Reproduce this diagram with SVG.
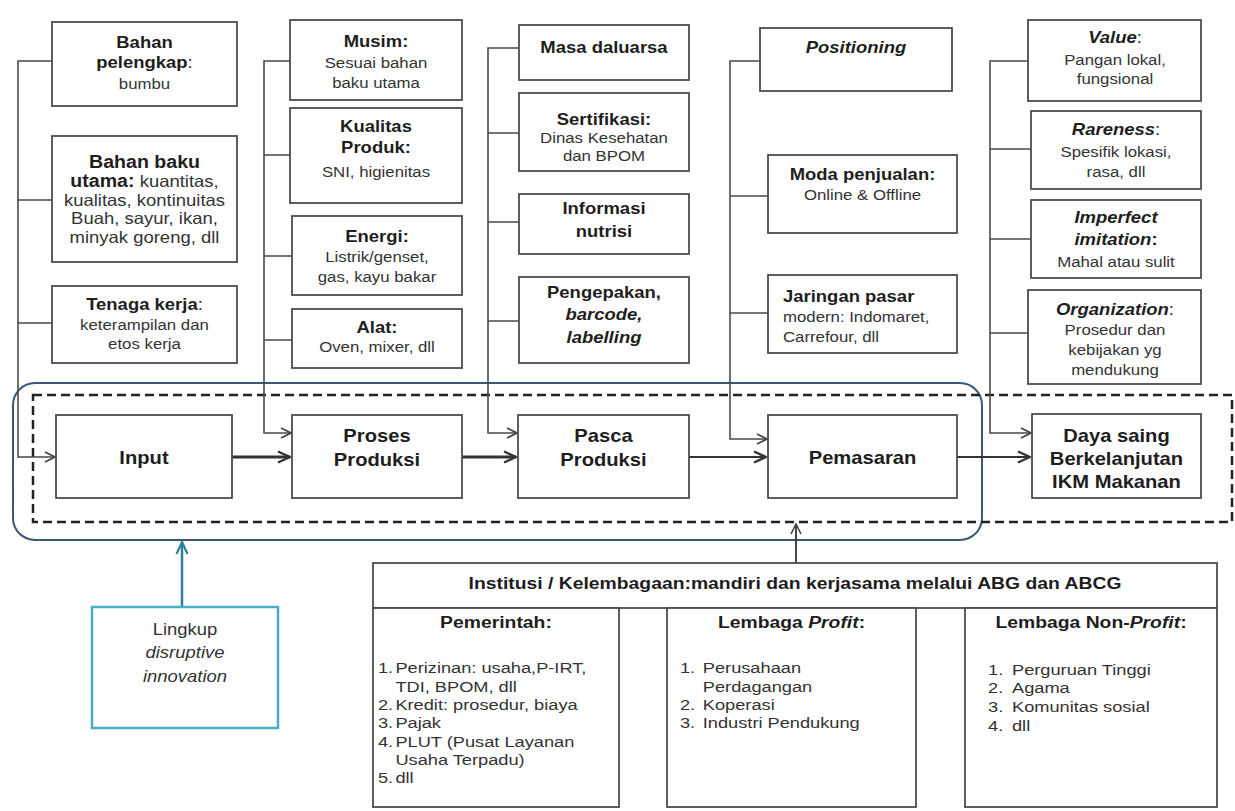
<svg xmlns="http://www.w3.org/2000/svg" width="1235" height="811" viewBox="0 0 1235 811">
  <style>
    .box { fill: #fff; stroke: #4d4d4d; stroke-width: 1.8; }
    .t { font-family: "Liberation Sans", Arial, sans-serif; fill: #1e1e1e; text-anchor: middle; }
    .l { text-anchor: start; }
    .h { font-size: 16.5px; font-weight: bold; }
    .s { font-size: 15px; fill: #333; }
    .m { font-size: 18px; font-weight: bold; }
    .li { font-size: 15.2px; fill: #333; text-anchor: start; }
    .it { font-style: italic; }
    .n { font-weight: normal; }
    .link { fill: none; stroke: #4a4a4a; stroke-width: 1.6; }
    .flow { fill: none; stroke: #333; stroke-width: 3; }
    .flow2 { fill: none; stroke: #333; stroke-width: 2.2; }
  </style>
  <defs>
    <marker id="chev" viewBox="0 0 12 12" refX="11" refY="6" markerWidth="12" markerHeight="12" markerUnits="userSpaceOnUse" orient="auto">
      <path d="M1,1 L11,6 L1,11" fill="none" stroke="#444" stroke-width="1.6"/>
    </marker>
    <marker id="chevBold" viewBox="0 0 14 14" refX="13" refY="7" markerWidth="14" markerHeight="14" markerUnits="userSpaceOnUse" orient="auto">
      <path d="M1,1.5 L13,7 L1,12.5" fill="none" stroke="#333" stroke-width="2.4"/>
    </marker>
    <marker id="chevTeal" viewBox="0 0 14 14" refX="13" refY="7" markerWidth="14" markerHeight="14" markerUnits="userSpaceOnUse" orient="auto">
      <path d="M1,1.5 L13,7 L1,12.5" fill="none" stroke="#2f7f98" stroke-width="2.2"/>
    </marker>
  </defs>

  <rect width="1235" height="811" fill="#fff"/>

  <!-- frames around the value chain -->
  <g id="frames">
    <rect x="13" y="383" width="969" height="157" rx="22" fill="none" stroke="#3a5775" stroke-width="2"/>
    <rect x="33" y="395" width="1199" height="127" fill="none" stroke="#222" stroke-width="2.5" stroke-dasharray="9 5"/>
  </g>

  <!-- connectors -->
  <g id="connectors">
    <!-- input factors -->
    <path class="link" d="M52 61 H18 V457 H55" marker-end="url(#chev)"/>
    <path class="link" d="M18 200 H52 M18 323 H52"/>
    <!-- production factors -->
    <path class="link" d="M290 61 H264 V433 H291" marker-end="url(#chev)"/>
    <path class="link" d="M264 155 H290 M264 256 H292 M264 340 H292"/>
    <!-- post-production factors -->
    <path class="link" d="M519 48 H488 V433 H517" marker-end="url(#chev)"/>
    <path class="link" d="M488 133 H519 M488 222 H519 M488 321 H519"/>
    <!-- marketing factors -->
    <path class="link" d="M760 61 H730 V439 H767" marker-end="url(#chev)"/>
    <path class="link" d="M730 196 H768 M730 313 H768"/>
    <!-- VRIO factors -->
    <path class="link" d="M1028 61 H990 V433 H1031" marker-end="url(#chev)"/>
    <path class="link" d="M990 149 H1031 M990 239 H1031 M990 333 H1028"/>
    <!-- main chain -->
    <path class="flow" d="M232 457 H290" marker-end="url(#chevBold)"/>
    <path class="flow" d="M462 457 H516" marker-end="url(#chevBold)"/>
    <path class="flow2" d="M689 457 H766" marker-end="url(#chevBold)"/>
    <path class="flow2" d="M957 457 H1030" marker-end="url(#chevBold)"/>
    <!-- scope and institutions -->
    <path d="M182 607 V542" fill="none" stroke="#2f7f98" stroke-width="2.5" marker-end="url(#chevTeal)"/>
    <path d="M796 563 V524" fill="none" stroke="#333" stroke-width="1.8" marker-end="url(#chev)"/>
  </g>

  <!-- column 1: input -->
  <g id="bahan-pelengkap">
    <rect class="box" x="52" y="22" width="185" height="84"/>
    <g transform="translate(144.5 0) scale(1.12 1) translate(-144.5 0)">
      <text class="t h" x="144.5" y="48">Bahan</text>
      <text class="t h" x="144.5" y="68">pelengkap<tspan class="n">:</tspan></text>
      <text class="t s" x="144.5" y="89">bumbu</text>
    </g>
  </g>
  <g id="bahan-baku">
    <rect class="box" x="52" y="136" width="185" height="126"/>
    <g transform="translate(144.5 0) scale(1.12 1) translate(-144.5 0)">
      <text class="t h" x="144.5" y="168" style="font-size:17.5px">Bahan baku</text>
      <text class="t h" x="144.5" y="187" style="font-size:17.5px">utama:<tspan class="n" style="font-size:16.5px;fill:#333"> kuantitas,</tspan></text>
      <text class="t s" x="144.5" y="206" style="font-size:16.5px">kualitas, kontinuitas</text>
      <text class="t s" x="144.5" y="224" style="font-size:16.5px">Buah, sayur, ikan,</text>
      <text class="t s" x="144.5" y="243" style="font-size:16.5px">minyak goreng, dll</text>
    </g>
  </g>
  <g id="tenaga-kerja">
    <rect class="box" x="52" y="286" width="185" height="77"/>
    <g transform="translate(144.5 0) scale(1.12 1) translate(-144.5 0)">
      <text class="t h" x="144.5" y="310">Tenaga kerja<tspan class="n">:</tspan></text>
      <text class="t s" x="144.5" y="330">keterampilan dan</text>
      <text class="t s" x="144.5" y="349">etos kerja</text>
    </g>
  </g>

  <!-- column 2: production -->
  <g id="musim">
    <rect class="box" x="290" y="20" width="172" height="80"/>
    <g transform="translate(376 0) scale(1.12 1) translate(-376 0)">
      <text class="t h" x="376" y="47">Musim:</text>
      <text class="t s" x="376" y="68">Sesuai bahan</text>
      <text class="t s" x="376" y="88">baku utama</text>
    </g>
  </g>
  <g id="kualitas">
    <rect class="box" x="290" y="108" width="172" height="95"/>
    <g transform="translate(376 0) scale(1.12 1) translate(-376 0)">
      <text class="t h" x="376" y="132">Kualitas</text>
      <text class="t h" x="376" y="153">Produk:</text>
      <text class="t s" x="376" y="177">SNI, higienitas</text>
    </g>
  </g>
  <g id="energi">
    <rect class="box" x="292" y="216" width="170" height="79"/>
    <g transform="translate(377 0) scale(1.12 1) translate(-377 0)">
      <text class="t h" x="377" y="242">Energi:</text>
      <text class="t s" x="377" y="262">Listrik/genset,</text>
      <text class="t s" x="377" y="282">gas, kayu bakar</text>
    </g>
  </g>
  <g id="alat">
    <rect class="box" x="292" y="309" width="170" height="59"/>
    <g transform="translate(377 0) scale(1.12 1) translate(-377 0)">
      <text class="t h" x="377" y="333">Alat:</text>
      <text class="t s" x="377" y="352">Oven, mixer, dll</text>
    </g>
  </g>

  <!-- column 3: post-production -->
  <g id="masa-daluarsa">
    <rect class="box" x="519" y="25" width="170" height="55"/>
    <g transform="translate(604 0) scale(1.12 1) translate(-604 0)">
      <text class="t h" x="604" y="53">Masa daluarsa</text>
    </g>
  </g>
  <g id="sertifikasi">
    <rect class="box" x="519" y="93" width="170" height="78"/>
    <g transform="translate(604 0) scale(1.12 1) translate(-604 0)">
      <text class="t h" x="604" y="125">Sertifikasi:</text>
      <text class="t s" x="604" y="143">Dinas Kesehatan</text>
      <text class="t s" x="604" y="161">dan BPOM</text>
    </g>
  </g>
  <g id="informasi-nutrisi">
    <rect class="box" x="519" y="194" width="170" height="60"/>
    <g transform="translate(604 0) scale(1.12 1) translate(-604 0)">
      <text class="t h" x="604" y="214">Informasi</text>
      <text class="t h" x="604" y="237">nutrisi</text>
    </g>
  </g>
  <g id="pengepakan">
    <rect class="box" x="519" y="277" width="170" height="86"/>
    <g transform="translate(604 0) scale(1.12 1) translate(-604 0)">
      <text class="t h" x="604" y="298">Pengepakan,</text>
      <text class="t h it" x="604" y="320">barcode,</text>
      <text class="t h it" x="604" y="343">labelling</text>
    </g>
  </g>

  <!-- column 4: marketing -->
  <g id="positioning">
    <rect class="box" x="760" y="28" width="192" height="63"/>
    <g transform="translate(856 0) scale(1.12 1) translate(-856 0)">
      <text class="t h it" x="856" y="53">Positioning</text>
    </g>
  </g>
  <g id="moda-penjualan">
    <rect class="box" x="768" y="155" width="189" height="78"/>
    <g transform="translate(862.5 0) scale(1.12 1) translate(-862.5 0)">
      <text class="t h" x="862.5" y="180">Moda penjualan:</text>
      <text class="t s" x="862.5" y="200">Online &amp; Offline</text>
    </g>
  </g>
  <g id="jaringan-pasar">
    <rect class="box" x="768" y="275" width="189" height="78"/>
    <g transform="translate(783 0) scale(1.12 1) translate(-783 0)">
      <text class="t l h" x="783" y="302">Jaringan pasar</text>
      <text class="t l s" x="783" y="322">modern: Indomaret,</text>
      <text class="t l s" x="783" y="342">Carrefour, dll</text>
    </g>
  </g>

  <!-- column 5: sustainable advantage (VRIO) -->
  <g id="value">
    <rect class="box" x="1028" y="20" width="173" height="81"/>
    <g transform="translate(1115 0) scale(1.12 1) translate(-1115 0)">
      <text class="t h" x="1115" y="43"><tspan class="it">Value</tspan><tspan class="n">:</tspan></text>
      <text class="t s" x="1115" y="65">Pangan lokal,</text>
      <text class="t s" x="1115" y="84">fungsional</text>
    </g>
  </g>
  <g id="rareness">
    <rect class="box" x="1031" y="111" width="170" height="78"/>
    <g transform="translate(1116 0) scale(1.12 1) translate(-1116 0)">
      <text class="t h" x="1116" y="135"><tspan class="it">Rareness</tspan><tspan class="n">:</tspan></text>
      <text class="t s" x="1116" y="157">Spesifik lokasi,</text>
      <text class="t s" x="1116" y="177">rasa, dll</text>
    </g>
  </g>
  <g id="imperfect-imitation">
    <rect class="box" x="1031" y="200" width="170" height="78"/>
    <g transform="translate(1116 0) scale(1.12 1) translate(-1116 0)">
      <text class="t h it" x="1116" y="223">Imperfect</text>
      <text class="t h" x="1116" y="245"><tspan class="it">imitation</tspan>:</text>
      <text class="t s" x="1116" y="267">Mahal atau sulit</text>
    </g>
  </g>
  <g id="organization">
    <rect class="box" x="1028" y="290" width="173" height="94"/>
    <g transform="translate(1115 0) scale(1.12 1) translate(-1115 0)">
      <text class="t h" x="1115" y="315"><tspan class="it">Organization</tspan><tspan class="n">:</tspan></text>
      <text class="t s" x="1115" y="335">Prosedur dan</text>
      <text class="t s" x="1115" y="355">kebijakan yg</text>
      <text class="t s" x="1115" y="375">mendukung</text>
    </g>
  </g>

  <!-- value chain -->
  <g id="input">
    <rect class="box" x="56" y="415" width="176" height="83"/>
    <g transform="translate(144 0) scale(1.12 1) translate(-144 0)">
      <text class="t m" x="144" y="464">Input</text>
    </g>
  </g>
  <g id="proses-produksi">
    <rect class="box" x="292" y="415" width="170" height="83"/>
    <g transform="translate(377 0) scale(1.12 1) translate(-377 0)">
      <text class="t m" x="377" y="442">Proses</text>
      <text class="t m" x="377" y="466">Produksi</text>
    </g>
  </g>
  <g id="pasca-produksi">
    <rect class="box" x="518" y="415" width="171" height="83"/>
    <g transform="translate(603.5 0) scale(1.12 1) translate(-603.5 0)">
      <text class="t m" x="603.5" y="442">Pasca</text>
      <text class="t m" x="603.5" y="466">Produksi</text>
    </g>
  </g>
  <g id="pemasaran">
    <rect class="box" x="768" y="415" width="189" height="83"/>
    <g transform="translate(862.5 0) scale(1.12 1) translate(-862.5 0)">
      <text class="t m" x="862.5" y="464">Pemasaran</text>
    </g>
  </g>
  <g id="daya-saing">
    <rect class="box" x="1032" y="414" width="169" height="84"/>
    <g transform="translate(1116.5 0) scale(1.12 1) translate(-1116.5 0)">
      <text class="t m" x="1116.5" y="442">Daya saing</text>
      <text class="t m" x="1116.5" y="465">Berkelanjutan</text>
      <text class="t m" x="1116.5" y="488">IKM Makanan</text>
    </g>
  </g>

  <!-- scope of disruptive innovation -->
  <g id="lingkup">
    <rect x="92" y="607" width="186" height="121" fill="#fff" stroke="#4bacc6" stroke-width="2.5"/>
    <g transform="translate(185 0) scale(1.12 1) translate(-185 0)">
      <text class="t" x="185" y="635" style="font-size:16.5px;fill:#333">Lingkup</text>
      <text class="t it" x="185" y="658" style="font-size:16.5px;fill:#333">disruptive</text>
      <text class="t it" x="185" y="682" style="font-size:16.5px;fill:#333">innovation</text>
    </g>
  </g>

  <!-- institutions -->
  <g id="institusi">
    <rect class="box" x="373" y="563" width="844" height="45"/>
    <g transform="translate(795 0) scale(1.18 1) translate(-795 0)">
      <text class="t" x="795" y="589" style="font-size:16.4px;font-weight:bold">Institusi / Kelembagaan:mandiri dan kerjasama melalui ABG dan ABCG</text>
    </g>
  </g>
  <g id="pemerintah">
    <rect class="box" x="373" y="608" width="246" height="199"/>
    <g transform="translate(496 0) scale(1.18 1) translate(-496 0)">
      <text class="t" x="496" y="628" style="font-size:16.4px;font-weight:bold">Pemerintah:</text>
    </g>
    <g transform="translate(378 0) scale(1.2 1) translate(-378 0)">
      <text class="t li" x="378" y="673">1.</text><text class="t li" x="392.5" y="673">Perizinan: usaha,P-IRT,</text>
      <text class="t li" x="392.5" y="692">TDI, BPOM, dll</text>
      <text class="t li" x="378" y="710">2.</text><text class="t li" x="392.5" y="710">Kredit: prosedur, biaya</text>
      <text class="t li" x="378" y="728">3.</text><text class="t li" x="392.5" y="728">Pajak</text>
      <text class="t li" x="378" y="747">4.</text><text class="t li" x="392.5" y="747">PLUT (Pusat Layanan</text>
      <text class="t li" x="392.5" y="765">Usaha Terpadu)</text>
      <text class="t li" x="378" y="783">5.</text><text class="t li" x="392.5" y="783">dll</text>
    </g>
  </g>
  <g id="lembaga-profit">
    <rect class="box" x="667" y="608" width="249" height="199"/>
    <g transform="translate(791.5 0) scale(1.18 1) translate(-791.5 0)">
      <text class="t" x="791.5" y="628" style="font-size:16.4px;font-weight:bold">Lembaga <tspan class="it">Profit</tspan>:</text>
    </g>
    <g transform="translate(680 0) scale(1.2 1) translate(-680 0)">
      <text class="t li" x="680" y="673">1.</text><text class="t li" x="699" y="673">Perusahaan</text>
      <text class="t li" x="699" y="692">Perdagangan</text>
      <text class="t li" x="680" y="710">2.</text><text class="t li" x="699" y="710">Koperasi</text>
      <text class="t li" x="680" y="728">3.</text><text class="t li" x="699" y="728">Industri Pendukung</text>
    </g>
  </g>
  <g id="lembaga-non-profit">
    <rect class="box" x="965" y="608" width="252" height="199"/>
    <g transform="translate(1091 0) scale(1.18 1) translate(-1091 0)">
      <text class="t" x="1091" y="628" style="font-size:16.4px;font-weight:bold">Lembaga Non-<tspan class="it">Profit</tspan>:</text>
    </g>
    <g transform="translate(988 0) scale(1.2 1) translate(-988 0)">
      <text class="t li" x="988" y="675">1.</text><text class="t li" x="1008" y="675">Perguruan Tinggi</text>
      <text class="t li" x="988" y="693">2.</text><text class="t li" x="1008" y="693">Agama</text>
      <text class="t li" x="988" y="712">3.</text><text class="t li" x="1008" y="712">Komunitas sosial</text>
      <text class="t li" x="988" y="731">4.</text><text class="t li" x="1008" y="731">dll</text>
    </g>
  </g>
</svg>
